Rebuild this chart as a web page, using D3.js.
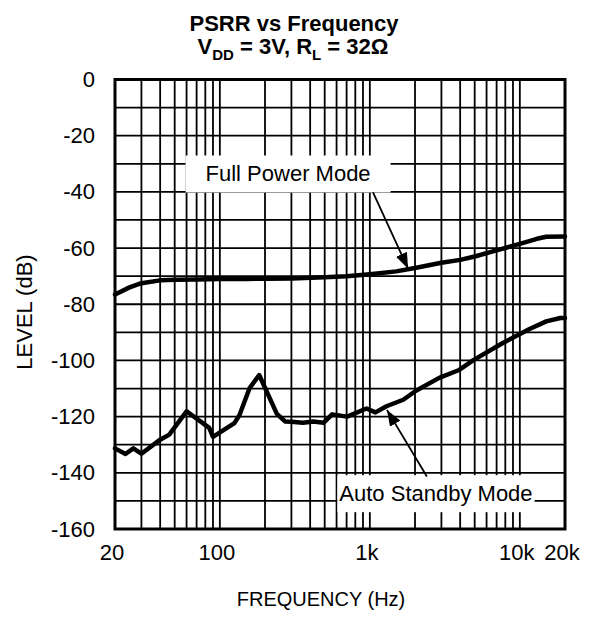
<!DOCTYPE html>
<html>
<head>
<meta charset="utf-8">
<script src="https://cdn.jsdelivr.net/npm/d3@7"></script>
<style>
  body { margin: 0; background: #fff; }
  svg text { font-family: "Liberation Sans", Arial, Helvetica, sans-serif; fill: #000; }
</style>
</head>
<body>
<div id="chart"></div>
<script>
// values
const fullPowerFreq = [20, 25, 30, 40, 50, 70, 100, 150, 200, 300, 500, 700, 1000, 1500, 2000, 3000, 4000, 5000, 7000, 10000, 13000, 15000, 20000];
const fullPowerDb   = [-76.5, -74, -72.5, -71.5, -71.3, -71.2, -71, -71, -70.9, -70.8, -70.4, -70, -69.3, -68.3, -67.1, -65.2, -64.2, -63, -60.8, -58.5, -56.7, -56, -55.9];

const standbyFreq = [20, 23.5, 26.5, 30, 40, 46, 60, 85, 90, 125, 135, 158, 183, 240, 272, 300, 358, 420, 491, 560, 705, 950, 1090, 1290, 1670, 2030, 2900, 3900, 4900, 7700, 11600, 15000, 18600, 20000];
const standbyDb   = [-131.3, -133.3, -131.3, -133.2, -128.2, -126.4, -118.1, -124, -127.2, -122.3, -119.5, -109.8, -105.2, -119, -121.7, -121.8, -122.2, -121.7, -122.2, -119.2, -120, -117.1, -118.5, -116.3, -114, -110.8, -106.2, -103.5, -99.9, -93.8, -88.8, -86.1, -84.9, -84.9];

const xTickValues = [20, 100, 1000, 10000, 20000];
const xTickLabels = ["20", "100", "1k", "10k", "20k"];
const yTickValues = [0, -20, -40, -60, -80, -100, -120, -140, -160];

// annotation labels (data coords) and their arrows
const labelText  = ["Full Power Mode", "Auto Standby Mode"];
const labelFreq  = [285, 2760];
const labelDb    = [-36.3, -150.1];
const arrowFrom  = [[1050, -40.2], [2400, -141.3]];
const arrowTo    = [[1800, -67.4], [1300, -117.6]];

const width = 598, height = 620;
const plot = {left: 115, right: 565, top: 79.5, bottom: 529};

let svg = d3.select("#chart").append("svg")
    .attr("width", width)
    .attr("height", height);

let x = d3.scaleLog().domain([20, 20000]).range([plot.left, plot.right]);
let y = d3.scaleLinear().domain([-160, 0]).range([plot.bottom, plot.top]);

// grid: every 1..9 per decade, every 10 dB
let gridF = [];
for (let dec = 10; dec <= 10000; dec *= 10) {
    for (let m = 1; m <= 9; m++) {
        let f = dec * m;
        if (f > 20 && f < 20000) gridF.push(f);
    }
}
let gridDb = d3.range(-150, 0, 10);

let grid = svg.append("g");
grid.selectAll(".vg").data(gridF).enter().append("line")
    .attr("x1", d => x(d)).attr("x2", d => x(d))
    .attr("y1", plot.top).attr("y2", plot.bottom)
    .attr("stroke", "#000").attr("stroke-width", 1.8);
grid.selectAll(".hg").data(gridDb).enter().append("line")
    .attr("x1", plot.left).attr("x2", plot.right)
    .attr("y1", d => y(d)).attr("y2", d => y(d))
    .attr("stroke", "#000").attr("stroke-width", 1.8);

// white boxes behind the annotation texts
let labels = svg.append("g");
let padX = [20, 2], padY = 6;
labelText.forEach(function(t, i) {
    let txt = labels.append("text")
        .attr("x", x(labelFreq[i]))
        .attr("y", y(labelDb[i]))
        .attr("text-anchor", "middle")
        .style("font-size", "22px")
        .text(t);
    let bb = txt.node().getBBox();
    labels.insert("rect", "text")
        .attr("x", bb.x - padX[i])
        .attr("y", bb.y - padY)
        .attr("width", bb.width + 2 * padX[i])
        .attr("height", bb.height + 2 * padY)
        .attr("fill", "#fff");
});

// frame
svg.append("rect")
    .attr("x", plot.left).attr("y", plot.top)
    .attr("width", plot.right - plot.left).attr("height", plot.bottom - plot.top)
    .attr("fill", "none").attr("stroke", "#000").attr("stroke-width", 3);

// curves
let line = d3.line().x(d => x(d[0])).y(d => y(d[1]));
let fullPts = fullPowerFreq.map((f, i) => [f, fullPowerDb[i]]);
let standbyPts = standbyFreq.map((f, i) => [f, standbyDb[i]]);
[fullPts, standbyPts].forEach(function(pts) {
    svg.append("path")
        .attr("d", line(pts))
        .attr("fill", "none")
        .attr("stroke", "#000")
        .attr("stroke-width", 4.5)
        .attr("stroke-linejoin", "round")
        .attr("stroke-linecap", "round");
});

// arrows
svg.append("defs").append("marker")
    .attr("id", "head")
    .attr("markerUnits", "userSpaceOnUse")
    .attr("viewBox", "0 0 16 12")
    .attr("refX", 16).attr("refY", 6)
    .attr("markerWidth", 16).attr("markerHeight", 12)
    .attr("orient", "auto")
    .append("path")
    .attr("d", "M0,0 L16,6 L0,12 Z")
    .attr("fill", "#000");
arrowFrom.forEach(function(a, i) {
    svg.append("line")
        .attr("x1", x(a[0])).attr("y1", y(a[1]))
        .attr("x2", x(arrowTo[i][0])).attr("y2", y(arrowTo[i][1]))
        .attr("stroke", "#000").attr("stroke-width", 1.8)
        .attr("marker-end", "url(#head)");
});

// tick labels
svg.append("g").selectAll("text").data(yTickValues).enter().append("text")
    .attr("x", 95)
    .attr("y", d => y(d) + 7.5)
    .attr("text-anchor", "end")
    .style("font-size", "22px")
    .text(d => d);
svg.append("g").selectAll("text").data(xTickValues).enter().append("text")
    .attr("x", d => x(d) - 3)
    .attr("y", 560)
    .attr("text-anchor", "middle")
    .style("font-size", "22px")
    .text((d, i) => xTickLabels[i]);

// axis titles
svg.append("text")
    .attr("transform", "translate(32, 312) rotate(-90)")
    .attr("text-anchor", "middle")
    .style("font-size", "22px")
    .text("LEVEL (dB)");
svg.append("text")
    .attr("x", 321).attr("y", 606)
    .attr("text-anchor", "middle")
    .style("font-size", "20px")
    .text("FREQUENCY (Hz)");

// title
let title = svg.append("g").style("font-weight", "bold").style("font-size", "22px");
title.append("text").attr("x", 294).attr("y", 31).attr("text-anchor", "middle")
    .text("PSRR vs Frequency");
let t2 = title.append("text").attr("x", 293).attr("y", 54).attr("text-anchor", "middle");
t2.append("tspan").text("V");
t2.append("tspan").attr("dy", 6).style("font-size", "15px").text("DD");
t2.append("tspan").attr("dy", -6).text(" = 3V, R");
t2.append("tspan").attr("dy", 6).style("font-size", "15px").text("L");
t2.append("tspan").attr("dy", -6).text(" = 32\u03A9");
</script>
</body>
</html>
